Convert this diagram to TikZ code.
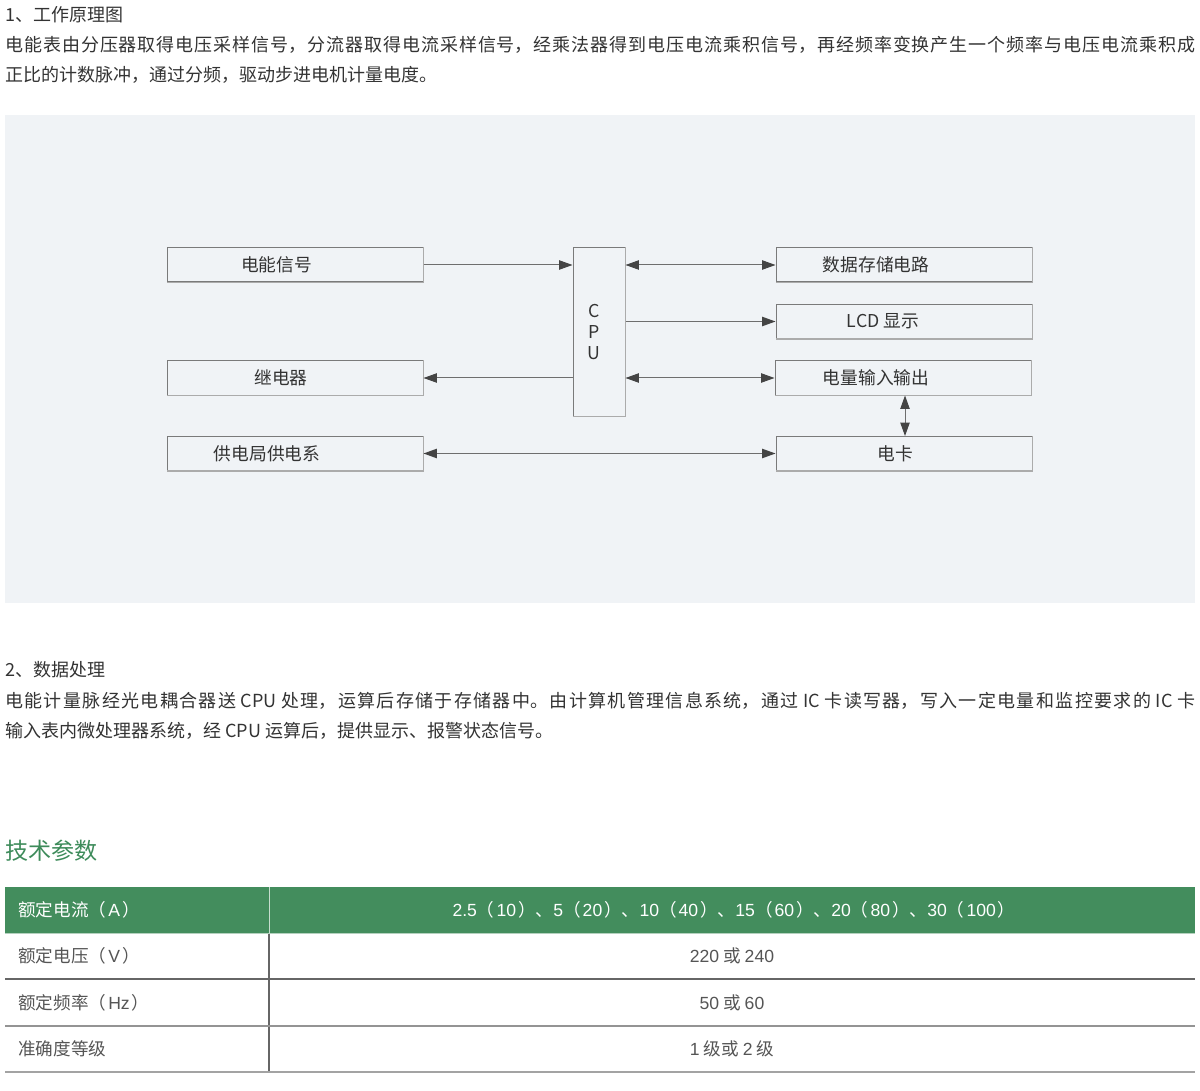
\documentclass[tikz,border=0pt]{standalone}
\usepackage{fontspec}
\setmainfont{Noto Sans CJK SC}
\newfontfamily\lib{Liberation Sans}
\usetikzlibrary{arrows.meta}
\XeTeXlinebreaklocale "zh"
\XeTeXlinebreakskip=0pt plus 3pt
\newcommand\mylp{（\hspace{1.5pt}}
\newcommand\myrp{\hspace{1.5pt}）}
\definecolor{txt}{HTML}{333333}
\definecolor{bgc}{HTML}{F0F3F6}
\definecolor{boxd}{HTML}{7A7A7A}
\definecolor{boxl}{HTML}{ABABAB}
\definecolor{arrc}{HTML}{444444}
\definecolor{lnc}{HTML}{6E6E6E}
\definecolor{grn}{HTML}{438D5D}
\definecolor{tgrn}{HTML}{3D8B5A}
\definecolor{tabl}{HTML}{666666}
\definecolor{tabt}{HTML}{555555}
\tikzset{
  para/.style={anchor=base west, inner sep=0pt, text width=892.5pt, align=justify,
    font=\fontsize{13.5pt}{22.5pt}\selectfont, text=txt},
  head/.style={anchor=base west, inner sep=0pt, font=\fontsize{13.5pt}{22.5pt}\selectfont, text=txt},
  blk/.style={draw=boxd, line width=0.75pt, fill=bgc, minimum width=192pt, minimum height=25.5pt, inner sep=0pt},
  shd/.style={draw=boxl, line width=1.3pt},
  lbl/.style={inner sep=0pt, font=\fontsize{13.3pt}{16pt}\selectfont, text=txt},
  arr/.style={draw=lnc, line width=0.75pt, -{Triangle[length=10pt,width=7pt,color=arrc]}},
  barr/.style={draw=lnc, line width=0.75pt, {Triangle[length=10pt,width=7pt,color=arrc]}-{Triangle[length=10pt,width=7pt,color=arrc]}},
  c1/.style={anchor=west, inner sep=0pt, font=\fontsize{13.2pt}{15pt}\selectfont, text=tabt},
  c2/.style={anchor=center, inner sep=0pt, font=\fontsize{13.2pt}{15pt}\selectfont, text=tabt},
}
\begin{document}
\begin{tikzpicture}[x=0.75pt,y=-0.75pt]
\useasboundingbox[fill=white] (0,0) rectangle (1200,1091);
% section 1
\node[head] (h1) at (5,22) {1、工作原理图};
\node[para] (p1) at (5,52) {电能表由分压器取得电压采样信号，分流器取得电流采样信号，经乘法器得到电压电流乘积信号，再经频率变换产生一个频率与电压电流乘积成\linebreak 正比的计数脉冲，通过分频，驱动步进电机计量电度。};
% diagram background
\fill[bgc] (5,115) rectangle (1195,603);
% blocks
\node[blk] (sig) at (295,265) {};
\node[lbl] (sigt) at (276.5,265) {电能信号};
\node[blk] (rel) at (295,378) {};
\node[lbl] (relt) at (281,378) {继电器};
\node[blk] (sup) at (295,453.5) {};
\node[lbl] (supt) at (267,453.5) {供电局供电系};
\node[blk, minimum width=39pt, minimum height=126pt] (cpu) at (599,332) {};
\node[lbl, align=center, font=\fontsize{13.3pt}{16.1pt}\selectfont] (cput) at (594,332) {C\\P\\U};
\node[blk] (mem) at (904,265) {};
\node[lbl] (memt) at (876,265) {数据存储电路};
\node[blk] (lcd) at (904,321.5) {};
\node[lbl] (lcdt) at (883,321.5) {LCD 显示};
\node[blk] (io) at (903,378) {};
\node[lbl] (iot) at (876,378) {电量输入输出};
\node[blk] (card) at (904,453.5) {};
\node[lbl] (cardt) at (895,453.5) {电卡};
\foreach \n in {sig,rel,sup,cpu,mem,lcd,io,card}
  \draw[shd] (\n.north east) -- (\n.south east) -- (\n.south west);
% connectors
\draw[arr] (sig.east) -- (cpu.west |- sig.east);
\draw[barr] (cpu.east |- mem.west) -- (mem.west);
\draw[arr] (cpu.east |- lcd.west) -- (lcd.west);
\draw[barr] (cpu.east |- io.west) -- (io.west);
\draw[arr] (cpu.west |- rel.east) -- (rel.east);
\draw[barr] (sup.east) -- (card.west);
\draw[barr] ([xshift=1.5pt]io.south) -- ([xshift=0.75pt]card.north);
% section 2
\node[head] (h2) at (5,676) {2、数据处理};
\node[para] (p2) at (5,707) {电能计量脉经光电耦合器送 CPU 处理，运算后存储于存储器中。由计算机管理信息系统，通过 IC 卡读写器，写入一定电量和监控要求的 IC 卡\linebreak 输入表内微处理器系统，经 CPU 运算后，提供显示、报警状态信号。};
% technical parameters
\node[anchor=base west, inner sep=0pt, font=\fontsize{17.3pt}{20pt}\selectfont, text=tgrn] (h3) at (5,859) {技术参数};
\fill[grn] (5,887) rectangle (1195,933);
\draw[white!70!grn, line width=0.75pt] (269,887) -- (269,933);
\draw[tabl, line width=0.9pt] (269,933) -- (269,1072);
\draw[white!60!grn, line width=0.75pt] (5,933) -- (1195,933);
\draw[tabl, line width=0.9pt] (5,979) -- (1195,979);
\draw[tabl!70!white, line width=0.9pt] (5,1026) -- (1195,1026);
\draw[tabl!60!white, line width=1.4pt] (5,1072) -- (1195,1072);
\node[c1, text=white] (r1a) at (18,910) {额定电流\mylp{\lib A}\myrp};
\node[c2, text=white] (r1b) at (734,910) {{\lib 2.5}\mylp{\lib 10}\myrp、{\lib 5}\mylp{\lib 20}\myrp、{\lib 10}\mylp{\lib 40}\myrp、{\lib 15}\mylp{\lib 60}\myrp、{\lib 20}\mylp{\lib 80}\myrp、{\lib 30}\mylp{\lib 100}\myrp};
\node[c1] (r2a) at (18,956) {额定电压\mylp{\lib V}\myrp};
\node[c2] (r2b) at (732,956) {{\lib 220} 或 {\lib 240}};
\node[c1] (r3a) at (18,1002.5) {额定频率\mylp{\lib Hz}\myrp};
\node[c2] (r3b) at (732,1002.5) {{\lib 50} 或 {\lib 60}};
\node[c1] (r4a) at (18,1049) {准确度等级};
\node[c2] (r4b) at (732,1049) {{\lib 1} 级或 {\lib 2} 级};
\end{tikzpicture}
\end{document}
